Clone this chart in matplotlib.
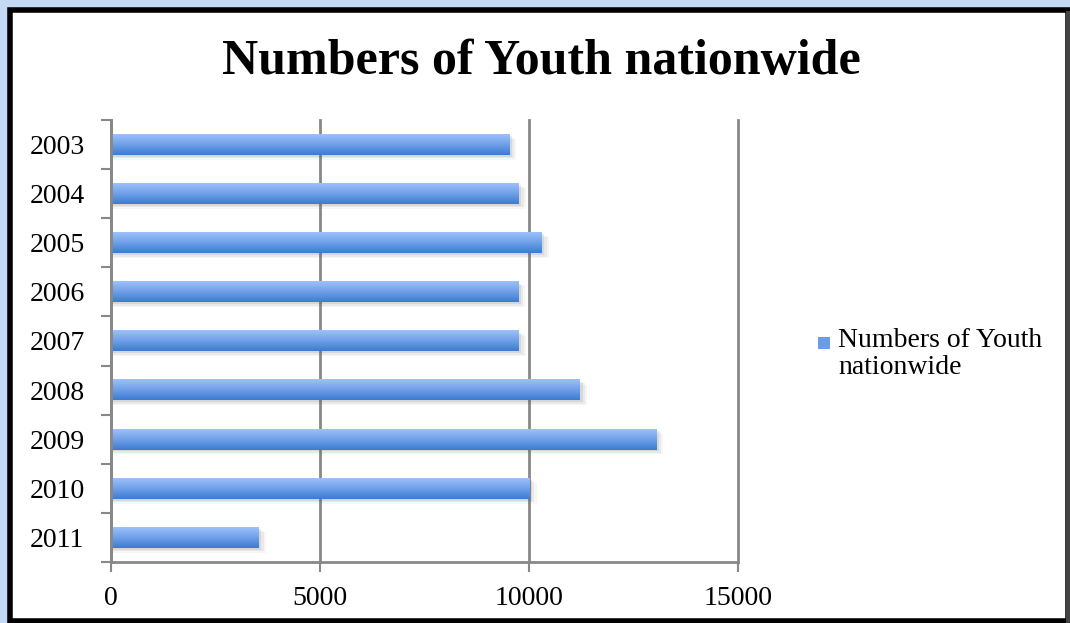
import numpy as np
import matplotlib.pyplot as plt
from matplotlib.colors import LinearSegmentedColormap
from matplotlib.patches import Rectangle

years = ['2003', '2004', '2005', '2006', '2007', '2008', '2009', '2010', '2011']
youth = [9540, 9760, 10310, 9740, 9760, 11220, 13040, 10020, 3540]
series_name = 'Numbers of Youth\nnationwide'
title = 'Numbers of Youth nationwide'

plt.rcParams['font.family'] = ['Liberation Serif', 'DejaVu Serif']

fig = plt.figure(figsize=(10.7, 6.23), dpi=100, facecolor='#c4daf4')
W, H = 1070, 623

# chart frame
fig.patches.append(Rectangle((10 / W, 2 / H), 1058 / W, 611 / H, transform=fig.transFigure,
                             facecolor='white', edgecolor='black', linewidth=4, zorder=-2))
fig.patches.append(Rectangle((1066 / W, 0), 4 / W, 612 / H, transform=fig.transFigure,
                             facecolor='#444444', edgecolor='none', zorder=-2))

ax = fig.add_axes([111 / W, 61 / H, 627 / W, 442 / H])
ax.set_facecolor('none')

grad = LinearSegmentedColormap.from_list('g', ['#3d7bd0', '#6fa0e8', '#9cc1fa'])
h = 0.42
y = np.arange(len(years))
for i, v in enumerate(youth):
    # soft shadow
    for k, a in enumerate([0.12, 0.08, 0.05]):
        ax.barh(y[i] + 0.04 + 0.03 * k, v + 60 + 50 * k, height=h, left=0,
                color='#555555', alpha=a, linewidth=0, zorder=2)
    ax.imshow(np.linspace(1, 0, 64).reshape(-1, 1), cmap=grad, aspect='auto',
              extent=(0, v, y[i] + h / 2, y[i] - h / 2), zorder=3, interpolation='bilinear')

ax.set_xlim(0, 15000)
ax.set_ylim(len(years) - 0.5, -0.5)
ax.set_xticks([0, 5000, 10000, 15000])
ax.set_xticklabels(['0', '5000', '10000', '15000'])
ax.set_yticks(y)
ax.set_yticklabels(years)
ax.set_yticks(np.arange(-0.5, len(years)), minor=True)
ax.tick_params(axis='y', which='major', length=0, pad=19, labelsize=20)
ax.tick_params(axis='y', which='minor', length=7, width=1.5, color='#888888', direction='out')
ax.tick_params(axis='x', length=7, width=1.5, color='#888888', pad=10, labelsize=20)
ax.xaxis.grid(True, color='#888888', linewidth=2)
for gl in ax.get_xgridlines():
    gl.set_clip_on(False)
ax.set_axisbelow(True)
for s in ['top', 'right']:
    ax.spines[s].set_visible(False)
for s in ['left', 'bottom']:
    ax.spines[s].set_color('#888888')
    ax.spines[s].set_linewidth(2)
    ax.spines[s].set_zorder(5)

fig.text(541 / W, 1 - 62 / H, title, ha='center', va='center', fontsize=36, fontweight='bold')

# legend
fig.patches.append(Rectangle((818 / W, 1 - 349 / H), 12 / W, 12 / H, transform=fig.transFigure,
                             facecolor='#6a9de6', edgecolor='none'))
fig.text(838 / W, 1 - 328 / H, series_name, ha='left', va='top', fontsize=20, linespacing=1.12)

fig.savefig('out.png', dpi=100, facecolor=fig.get_facecolor())
